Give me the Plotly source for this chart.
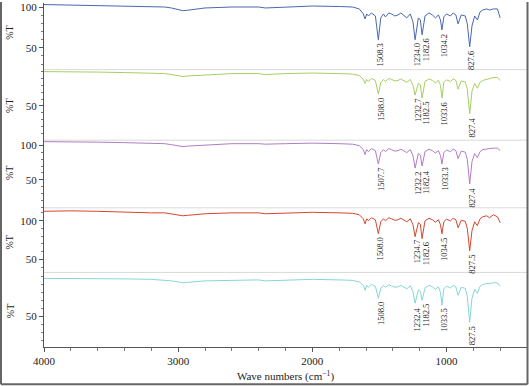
import plotly.graph_objects as go

# ---------------- data ----------------
wavenumbers = [4000, 3800, 3600, 3400, 3200, 3100, 3050, 3000, 2965, 2930, 2870, 2800, 2600, 2400, 2350,
               2200, 2000, 1800, 1700, 1650, 1620, 1607, 1595, 1582, 1560, 1530, 1508, 1490, 1470, 1455,
               1430, 1410, 1385, 1362, 1340, 1296, 1270, 1250, 1234, 1210, 1195, 1182, 1160, 1130, 1105,
               1083, 1060, 1045, 1034, 1020, 1000, 970, 950, 930, 914, 890, 860, 845, 827, 810, 790, 770,
               750, 730, 700, 680, 650, 620, 600]

t_blue = [103.0, 102.4, 101.2, 100.6, 100.6, 100.0, 98.8, 97.0, 95.5, 96.0, 97.0, 98.8, 100.0, 100.0, 98.8,
          100.0, 101.2, 100.6, 100.0, 97.6, 91.5, 85.4, 91.5, 89.0, 92.7, 89.0, 59.8, 86.6, 91.5, 87.8,
          92.7, 91.5, 89.0, 90.2, 92.7, 86.6, 91.5, 81.7, 59.8, 86.6, 84.1, 65.9, 89.0, 92.7, 90.2,
          86.6, 90.2, 84.1, 71.9, 87.8, 91.5, 89.0, 92.7, 90.2, 79.3, 90.2, 89.0, 79.3, 51.2, 76.8, 89.0, 84.1,
          93.9, 96.3, 97.6, 96.3, 97.6, 97.6, 86.6]

t_green = [100.0, 100.0, 99.3, 98.6, 97.9, 97.1, 95.7, 94.3, 92.9, 93.6, 94.3, 95.7, 97.1, 97.1, 95.7,
           97.1, 97.9, 97.1, 96.4, 94.3, 88.6, 82.9, 88.6, 85.7, 90.0, 87.1, 67.1, 84.3, 88.6, 85.7,
           90.0, 88.6, 86.4, 87.1, 89.3, 84.3, 88.6, 80.0, 65.7, 82.9, 80.7, 61.4, 85.7, 89.3, 87.1,
           83.6, 87.1, 80.0, 61.4, 84.3, 87.9, 85.7, 89.3, 87.1, 74.3, 86.4, 85.0, 74.3, 38.6, 71.4, 82.9, 75.7,
           84.3, 87.1, 88.6, 90.0, 91.4, 91.4, 87.1]

t_purple = [105.0, 105.0, 104.3, 103.6, 102.9, 102.1, 100.7, 99.3, 97.9, 98.6, 99.3, 100.7, 102.1, 102.1, 101.4,
            102.1, 102.9, 102.1, 101.4, 99.3, 93.6, 86.4, 93.6, 90.7, 95.0, 92.1, 72.9, 89.3, 93.6, 90.7,
            95.0, 93.6, 91.4, 92.1, 94.3, 89.3, 93.6, 85.0, 67.1, 87.9, 85.7, 70.0, 90.7, 94.3, 92.1,
            88.6, 92.1, 85.0, 72.9, 89.3, 92.9, 90.7, 94.3, 92.1, 80.7, 91.4, 90.0, 79.3, 44.3, 76.4, 87.9, 82.1,
            90.7, 93.6, 95.0, 95.0, 95.7, 95.7, 92.1]

t_red = [112.2, 112.8, 112.2, 110.9, 110.2, 110.2, 109.0, 107.7, 106.4, 107.0, 107.7, 109.0, 110.2, 110.2, 109.0,
         110.2, 110.9, 110.2, 109.6, 107.7, 102.5, 96.1, 102.5, 100.0, 103.8, 101.3, 83.3, 98.7, 102.5, 100.0,
         103.8, 102.5, 100.6, 101.3, 103.2, 98.7, 102.5, 94.9, 79.5, 97.4, 95.5, 76.9, 100.0, 103.2, 101.3,
         98.1, 101.3, 94.9, 83.3, 98.7, 101.9, 100.0, 103.2, 101.3, 91.0, 100.6, 99.3, 89.7, 61.5, 87.2, 98.7, 93.6,
         102.5, 105.1, 106.4, 103.8, 107.7, 105.1, 97.4]

t_cyan = [97.5, 97.5, 97.5, 96.9, 96.3, 95.6, 94.4, 93.1, 91.9, 92.5, 93.1, 94.4, 95.0, 95.6, 94.4,
          95.6, 96.3, 95.6, 95.0, 93.1, 88.8, 82.5, 88.8, 86.3, 90.0, 87.5, 72.5, 85.0, 88.8, 86.3,
          89.4, 88.1, 86.3, 86.9, 88.8, 84.4, 88.1, 80.6, 66.3, 83.1, 81.3, 70.0, 85.6, 88.8, 86.9,
          83.8, 86.9, 80.0, 63.8, 84.4, 87.5, 85.6, 88.8, 86.9, 76.3, 86.3, 85.0, 75.0, 42.5, 72.5, 83.8, 78.8,
          87.5, 90.0, 91.3, 91.3, 91.9, 91.9, 87.5]

labels_blue = ["1508.3", "1234.0", "1182.6", "1034.2", "827.6"]
labels_green = ["1508.0", "1232.7", "1182.5", "1033.6", "827.4"]
labels_purple = ["1507.7", "1232.2", "1182.4", "1033.3", "827.4"]
labels_red = ["1508.0", "1234.7", "1182.6", "1034.5", "827.5"]
labels_cyan = ["1508.0", "1232.4", "1182.5", "1033.5", "827.5"]

x_ticks = [4000, 3000, 2000, 1000]

# ---------------- layout constants ----------------
W, H = 529, 386
ML, MR, MT, MB = 44, 2, 1, 39
PW, PH = W - ML - MR, H - MT - MB
FONT = "Liberation Serif"


def yfrac(py):
    return (H - MB - py) / PH


panels = [
    dict(ax="y", vals=t_blue, labels=labels_blue, color="#4a68ad", rng=[23.2, 104.9],
         top=MT, bottom=68, ticks=[50, 100], title_y=68.3),
    dict(ax="y2", vals=t_green, labels=labels_green, color="#a5cf63", rng=[0.0, 102.9],
         top=68, bottom=139, ticks=[50], title_y=50),
    dict(ax="y3", vals=t_purple, labels=labels_purple, color="#b07cc4", rng=[10.0, 107.1],
         top=139, bottom=207, ticks=[50, 100], title_y=60),
    dict(ax="y4", vals=t_red, labels=labels_red, color="#d5452f", rng=[33.3, 116.7],
         top=207, bottom=272, ticks=[50, 100], title_y=71.8),
    dict(ax="y5", vals=t_cyan, labels=labels_cyan, color="#86d6d4", rng=[11.25, 105.0],
         top=272, bottom=H - MB, ticks=[50], title_y=56.25),
]

fig = go.Figure()
annotations = []
shapes = []

for i, p in enumerate(panels):
    fig.add_trace(go.Scatter(x=wavenumbers, y=p["vals"], mode="lines", xaxis="x", yaxis=p["ax"],
                             line=dict(color=p["color"], width=1), hoverinfo="skip", showlegend=False))
    key = "yaxis" if p["ax"] == "y" else "yaxis" + p["ax"][1:]
    dom = [max(0.0, yfrac(p["bottom"])), min(1.0, yfrac(p["top"]))]
    fig.layout[key] = dict(
        domain=dom, anchor="x", range=p["rng"], showgrid=False, zeroline=False,
        showline=True, linecolor="#555", linewidth=1, mirror=False,
        tickmode="array", tickvals=p["ticks"], ticks="outside", ticklen=4, tickcolor="#555",
        ticklabeloverflow="allow",
        tickfont=dict(family=FONT, size=11, color="#222"),
        minor=dict(tickmode="array", tickvals=list(range(10, 120, 10)), ticks="outside",
                   ticklen=2, tickcolor="#777", showgrid=False),
    )
    # %T axis title
    annotations.append(dict(text="%T", x=(10 - ML) / PW, xref="paper", y=p["title_y"],
                            yref=p["ax"], showarrow=False, textangle=-90,
                            font=dict(family=FONT, size=10, color="#222"),
                            xanchor="center", yanchor="middle"))
    # panel separators
    if i > 0:
        shapes.append(dict(type="line", xref="paper", yref="paper", x0=0, x1=1,
                           y0=yfrac(p["top"]), y1=yfrac(p["top"]),
                           line=dict(color="#d9d9d9", width=1)))
    # peak labels
    for lbl in p["labels"]:
        wn = float(lbl)
        idx = min(range(len(wavenumbers)), key=lambda k: abs(wavenumbers[k] - wn))
        shift = 4 if lbl.startswith("1182") else 2
        annotations.append(dict(text=lbl, x=wn, xref="x", y=p["vals"][idx], yref=p["ax"],
                                showarrow=False, textangle=-90, xanchor="center", yanchor="top",
                                xshift=shift, yshift=-2,
                                font=dict(family=FONT, size=8.5, color="#222")))

# outer frame
fx0, fx1 = (1 - ML) / PW, (W - 1.5 - ML) / PW
fy0, fy1 = yfrac(H - 1.5), yfrac(0)
for x0, y0, x1, y1 in [(fx0, fy0, fx0, fy1), (fx1, fy0, fx1, fy1), (fx0, fy0, fx1, fy0)]:
    shapes.append(dict(type="line", xref="paper", yref="paper", x0=x0, y0=y0, x1=x1, y1=y1,
                       line=dict(color="#666", width=2)))

fig.update_layout(
    width=W, height=H, margin=dict(l=ML, r=MR, t=MT, b=MB),
    paper_bgcolor="white", plot_bgcolor="white", showlegend=False,
    xaxis=dict(domain=[0, 1], anchor="y5", range=[4000, 400], showgrid=False, zeroline=False,
               showline=True, linecolor="#555", linewidth=1,
               tickmode="array", tickvals=x_ticks, ticks="outside", ticklen=4, tickcolor="#555",
               ticklabeloverflow="allow",
               tickfont=dict(family=FONT, size=11, color="#222"),
               minor=dict(tickmode="linear", tick0=0, dtick=200, ticks="outside", ticklen=3,
                          tickcolor="#777", showgrid=False),
               title=dict(text="Wave numbers (cm<sup>−1</sup>)", standoff=6,
                          font=dict(family=FONT, size=11, color="#222"))),
    annotations=annotations, shapes=shapes,
)

fig.write_html("out.html", config={"displayModeBar": False, "staticPlot": True},
               post_script="document.body.style.margin='0';document.body.style.overflow='hidden';")
